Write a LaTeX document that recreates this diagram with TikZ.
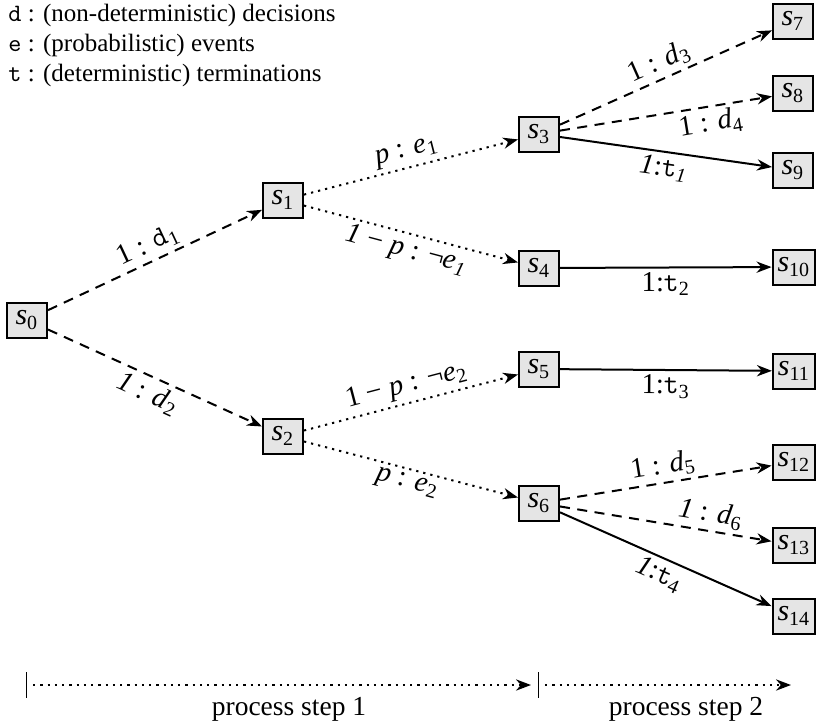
\documentclass[tikz,border=0pt]{standalone}
\usepackage{fontspec}
\setmainfont{Liberation Serif}[ItalicFont={Liberation Serif Italic}]
\usetikzlibrary{arrows.meta}

% state names and edge labels
\newcommand{\stt}[1]{\textit{s}\textsubscript{#1}}
\newcommand{\ivar}[2]{\textit{#1}\textsubscript{#2}}
\newcommand{\tvar}[2]{\texttt{#1}\textsubscript{#2}}

\begin{document}
\begin{tikzpicture}[x=0.4pt,y=-0.4pt,
  state/.style={draw,line width=0.8pt,fill=black!10,minimum width=16pt,
    minimum height=14pt,inner sep=2pt,font=\fontsize{12}{14}\selectfont},
  tip/.style={-{Stealth[length=6pt,width=4.5pt]}},
  dec/.style={tip,line width=0.8pt,dash pattern=on 4pt off 3pt},
  evt/.style={tip,line width=0.8pt,dash pattern=on 0.9pt off 2pt},
  trm/.style={tip,line width=0.8pt},
  lbl/.style={font=\fontsize{11.5}{13}\selectfont,sloped,inner sep=1.5pt},
  legend/.style={anchor=west,inner sep=0pt,font=\fontsize{10}{12}\selectfont}]
\useasboundingbox (0,0) rectangle (827,722);

% legend
\node[legend] (ld) at (8,15) {\texttt{d} : (non-deterministic) decisions};
\node[legend] (le) at (8,45) {\texttt{e} : (probabilistic) events};
\node[legend] (lt) at (8,75) {\texttt{t} : (deterministic) terminations};

% states
\node[state] (s0) at (27,320) {\stt{0}};
\node[state] (s1) at (283,200) {\stt{1}};
\node[state] (s2) at (283,436) {\stt{2}};
\node[state] (s3) at (539,134) {\stt{3}};
\node[state] (s4) at (539,268) {\stt{4}};
\node[state] (s5) at (539,369) {\stt{5}};
\node[state] (s6) at (539,503) {\stt{6}};
\node[state] (s7) at (793,21) {\stt{7}};
\node[state] (s8) at (793,93) {\stt{8}};
\node[state] (s9) at (793,170) {\stt{9}};
\node[state] (s10) at (794,267) {\stt{10}};
\node[state] (s11) at (794,371) {\stt{11}};
\node[state] (s12) at (794,462) {\stt{12}};
\node[state] (s13) at (794,545) {\stt{13}};
\node[state] (s14) at (794,616) {\stt{14}};

% first step: decisions, then events
\draw[dec] (s0) -- node[lbl,above] {1 : \tvar{d}{1}} (s1);
\draw[dec] (s0) -- node[lbl,below] {\textit{1} : \ivar{d}{2}} (s2);
\draw[evt] (s1) -- node[lbl,above] {\textit{p} : \ivar{e}{1}} (s3);
\draw[evt] (s1) -- node[lbl,below] {\textit{1} − \textit{p} : ¬\ivar{e}{\textit{1}}} (s4);
\draw[evt] (s2) -- node[lbl,above] {1 − \textit{p} : ¬\ivar{e}{2}} (s5);
\draw[evt] (s2) -- node[lbl,below] {\textit{p} : \ivar{e}{2}} (s6);

% second step
\draw[dec] (s3) -- node[lbl,above] {1 : \ivar{d}{3}} (s7);
\draw[dec] (s3) -- node[lbl,below,pos=0.7] {1 : \ivar{d}{4}} (s8);
\draw[trm] (s3) -- node[lbl,below] {\textit{1}:\tvar{t}{\textit{1}}} (s9);
\draw[trm] (s4) -- node[lbl,below] {1:\tvar{t}{2}} (s10);
\draw[trm] (s5) -- node[lbl,below] {1:\tvar{t}{3}} (s11);
\draw[dec] (s6) -- node[lbl,above] {1 : \ivar{d}{5}} (s12);
\draw[dec] (s6) -- node[lbl,above,pos=0.7] {\textit{1} : \ivar{d}{6}} (s13);
\draw[trm] (s6) -- node[lbl,below] {\textit{1}:\tvar{t}{4}} (s14);

% process steps along the bottom
\coordinate (b0t) at (26,672);
\coordinate (b0b) at (26,698);
\coordinate (b1t) at (538,672);
\coordinate (b1b) at (538,698);
\coordinate (p0) at (33,685);
\coordinate (p1) at (531,685);
\coordinate (p2) at (545,685);
\coordinate (p3) at (791,685);
\draw[line width=0.4pt] (b0t) -- (b0b);
\draw[line width=0.4pt] (b1t) -- (b1b);
\draw[evt] (p0) -- (p1);
\draw[evt] (p2) -- (p3);
\node[font=\fontsize{11}{13}\selectfont] (ps1) at (289,709) {process step 1};
\node[font=\fontsize{11}{13}\selectfont] (ps2) at (686,709) {process step 2};
\end{tikzpicture}
\end{document}
